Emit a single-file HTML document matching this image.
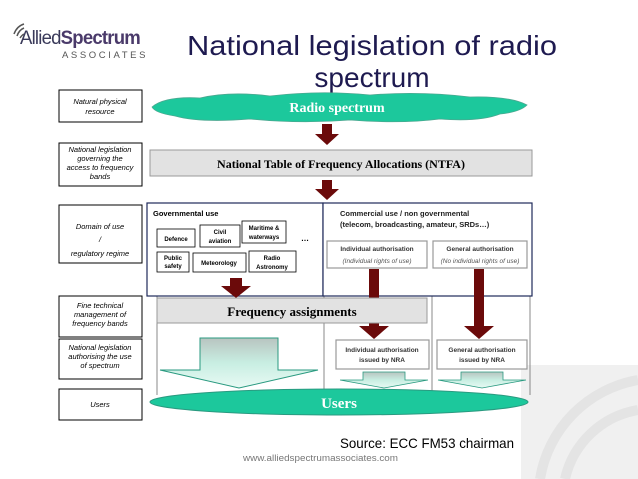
<!DOCTYPE html>
<html><head><meta charset="utf-8"><style>
html,body{margin:0;padding:0;background:#fff;width:638px;height:479px;overflow:hidden}
svg{display:block}
</style></head><body>
<svg width="638" height="479" viewBox="0 0 638 479" xmlns="http://www.w3.org/2000/svg" font-family="Liberation Sans, sans-serif">
<defs>
<linearGradient id="g1" x1="0" y1="0" x2="0" y2="1"><stop offset="0" stop-color="#b8c4c0"/><stop offset="0.5" stop-color="#c8eee2"/><stop offset="1" stop-color="#e8faf4"/></linearGradient>
</defs>
<!-- bottom-right decoration -->
<rect x="521" y="365" width="117" height="114" fill="#f0f0f0"/>
<path d="M638 380 A120 120 0 0 0 540 479" fill="none" stroke="#e4e4e4" stroke-width="10"/>
<path d="M638 410 A90 90 0 0 0 565 479" fill="none" stroke="#e4e4e4" stroke-width="10"/>
<!-- logo -->
<path d="M14 34 q3 -8 10 -10 M17 36 q2 -6 7 -8 M20 38 q2 -3 4 -4" stroke="#555" stroke-width="1.5" fill="none"/>
<text x="20" y="44" font-size="19" fill="#3a3a5a" letter-spacing="-0.8" textLength="120" lengthAdjust="spacingAndGlyphs">Allied<tspan font-weight="bold" fill="#4a3a6a">Spectrum</tspan></text>
<text x="62" y="58" font-size="9.5" fill="#555" letter-spacing="2.6">ASSOCIATES</text>
<!-- title -->
<text x="372" y="55" font-size="28" fill="#1e1a50" text-anchor="middle" textLength="370" lengthAdjust="spacingAndGlyphs">National legislation of radio</text>
<text x="372" y="87" font-size="28" fill="#1e1a50" text-anchor="middle">spectrum</text>
<!-- left boxes -->
<g fill="#fff" stroke="#000" stroke-width="1">
<rect x="59" y="90" width="83" height="32"/>
<rect x="59" y="143" width="83" height="43"/>
<rect x="59" y="205" width="83" height="58"/>
<rect x="59" y="296" width="83" height="41"/>
<rect x="59" y="339" width="83" height="40"/>
<rect x="59" y="389" width="83" height="31"/>
</g>
<g font-size="7.5" font-style="italic" text-anchor="middle" fill="#000">
<text x="100" y="104">Natural physical</text><text x="100" y="114">resource</text>
<text x="100" y="152">National legislation</text><text x="100" y="161">governing the</text><text x="100" y="170">access to frequency</text><text x="100" y="179">bands</text>
<text x="100" y="229">Domain of  use</text><text x="100" y="242">/</text><text x="100" y="256">regulatory regime</text>
<text x="100" y="308">Fine technical</text><text x="100" y="317">management  of</text><text x="100" y="326">frequency bands</text>
<text x="100" y="350">National legislation</text><text x="100" y="359">authorising the use</text><text x="100" y="368">of spectrum</text>
<text x="100" y="407">Users</text>
</g>
<!-- cloud -->
<path d="M152 107 Q165 96 200 98 Q230 91 270 96 Q320 90 370 95 Q420 91 470 97 Q510 96 527 105 Q520 112 500 114 Q480 122 440 119 Q400 124 350 120 Q300 124 250 119 Q200 123 175 116 Q155 113 152 107Z" fill="#1cc89c" stroke="#4aa890" stroke-width="0.8"/>
<text x="337" y="112" font-family="Liberation Serif, serif" font-weight="bold" font-size="14" fill="#fff" text-anchor="middle">Radio spectrum</text>
<!-- NTFA -->
<rect x="150" y="150" width="382" height="26" fill="#e2e2e2" stroke="#999"/>
<text x="341" y="168" font-family="Liberation Serif, serif" font-weight="bold" font-size="12" text-anchor="middle">National Table of Frequency Allocations (NTFA)</text>
<!-- vertical lines -->
<g stroke="#888" stroke-width="1">
<line x1="157" y1="296" x2="157" y2="395"/><line x1="324" y1="296" x2="324" y2="395"/>
<line x1="432" y1="296" x2="432" y2="395"/><line x1="530" y1="296" x2="530" y2="395"/>
</g>
<!-- main region -->
<rect x="147" y="203" width="176" height="93" fill="#fff" stroke="#1e2a5a" stroke-width="1.2"/>
<rect x="323" y="203" width="209" height="93" fill="#fff" stroke="#1e2a5a" stroke-width="1.2"/>
<text x="153" y="216" font-size="7.5" font-weight="bold">Governmental use</text>
<g fill="#fff" stroke="#000" stroke-width="0.8">
<rect x="157" y="229" width="38" height="18"/><rect x="200" y="225" width="40" height="22"/><rect x="242" y="221" width="44" height="22"/>
<rect x="157" y="252" width="32" height="20"/><rect x="193" y="253" width="53" height="19"/><rect x="249" y="251" width="47" height="21"/>
</g>
<g font-size="6" font-weight="bold" text-anchor="middle">
<text x="176" y="241">Defence</text><text x="220" y="234">Civil</text><text x="220" y="243">aviation</text>
<text x="264" y="230">Maritime &amp;</text><text x="264" y="239">waterways</text><text x="305" y="241" font-size="8">…</text>
<text x="173" y="260">Public</text><text x="173" y="268">safety</text><text x="219" y="265">Meteorology</text>
<text x="272" y="260">Radio</text><text x="272" y="269">Astronomy</text>
</g>
<text x="340" y="216" font-size="7.5" font-weight="bold" fill="#222">Commercial use / non governmental</text>
<text x="340" y="227" font-size="7.5" font-weight="bold" fill="#222">(telecom, broadcasting, amateur, SRDs…)</text>
<rect x="327" y="241" width="100" height="27" fill="#fff" stroke="#999" stroke-width="1.2"/>
<rect x="433" y="241" width="94" height="27" fill="#fff" stroke="#999" stroke-width="1.2"/>
<g text-anchor="middle" font-size="6.5">
<text x="377" y="251" font-weight="bold" fill="#333">Individual authorisation</text>
<text x="377" y="263" font-style="italic" fill="#555">(Individual rights of use)</text>
<text x="480" y="251" font-weight="bold" fill="#333">General authorisation</text>
<text x="480" y="263" font-style="italic" fill="#555">(No individual rights of use)</text>
</g>
<!-- arrows -->
<g fill="#6b0a0a">
<path d="M322 124 h10 v10 h7 l-12 11 l-12 -11 h7z"/>
<path d="M322 180 h10 v9 h7 l-12 11 l-12 -11 h7z"/>
<path d="M230 278 h12 v8 h9 l-15 12 l-15 -12 h9z"/>
<path d="M369 269 h10 v57 h10 l-15 13 l-15 -13 h10z"/>
<path d="M474 269 h10 v57 h10 l-15 13 l-15 -13 h10z"/>
</g>
<!-- freq assignments -->
<rect x="157" y="298" width="270" height="25" fill="#e2e2e2" stroke="#999"/>
<text x="292" y="316" font-family="Liberation Serif, serif" font-weight="bold" font-size="13" text-anchor="middle">Frequency assignments</text>
<!-- big arrow -->
<path d="M200 338 h78 v32 h40 l-79 18 l-79 -18 h40z" fill="url(#g1)" stroke="#2a9a80" stroke-width="1"/>
<!-- NRA boxes -->
<rect x="336" y="340" width="93" height="29" fill="#fff" stroke="#999" stroke-width="1.2"/>
<rect x="437" y="340" width="90" height="29" fill="#fff" stroke="#999" stroke-width="1.2"/>
<g text-anchor="middle" font-size="6.5" font-weight="bold" fill="#333">
<text x="382" y="352">Individual authorisation</text><text x="382" y="362">issued by NRA</text>
<text x="482" y="352">General authorisation</text><text x="482" y="362">issued by NRA</text>
</g>
<path d="M363 372 h42 v8 h23 l-44 8 l-44 -8 h23z" fill="url(#g1)" stroke="#2a9a80" stroke-width="0.8"/>
<path d="M461 372 h42 v8 h23 l-44 8 l-44 -8 h23z" fill="url(#g1)" stroke="#2a9a80" stroke-width="0.8"/>
<!-- users -->
<ellipse cx="339" cy="402" rx="189" ry="13" fill="#1cc89c" stroke="#2a9a80"/>
<text x="339" y="408" font-family="Liberation Serif, serif" font-weight="bold" font-size="15" fill="#fff" text-anchor="middle">Users</text>
<!-- footer -->
<text x="340" y="448" font-size="14" fill="#000" textLength="174" lengthAdjust="spacingAndGlyphs">Source: ECC FM53 chairman</text>
<text x="243" y="461" font-size="9" fill="#777" textLength="155" lengthAdjust="spacingAndGlyphs">www.alliedspectrumassociates.com</text>
</svg>
</body></html>
